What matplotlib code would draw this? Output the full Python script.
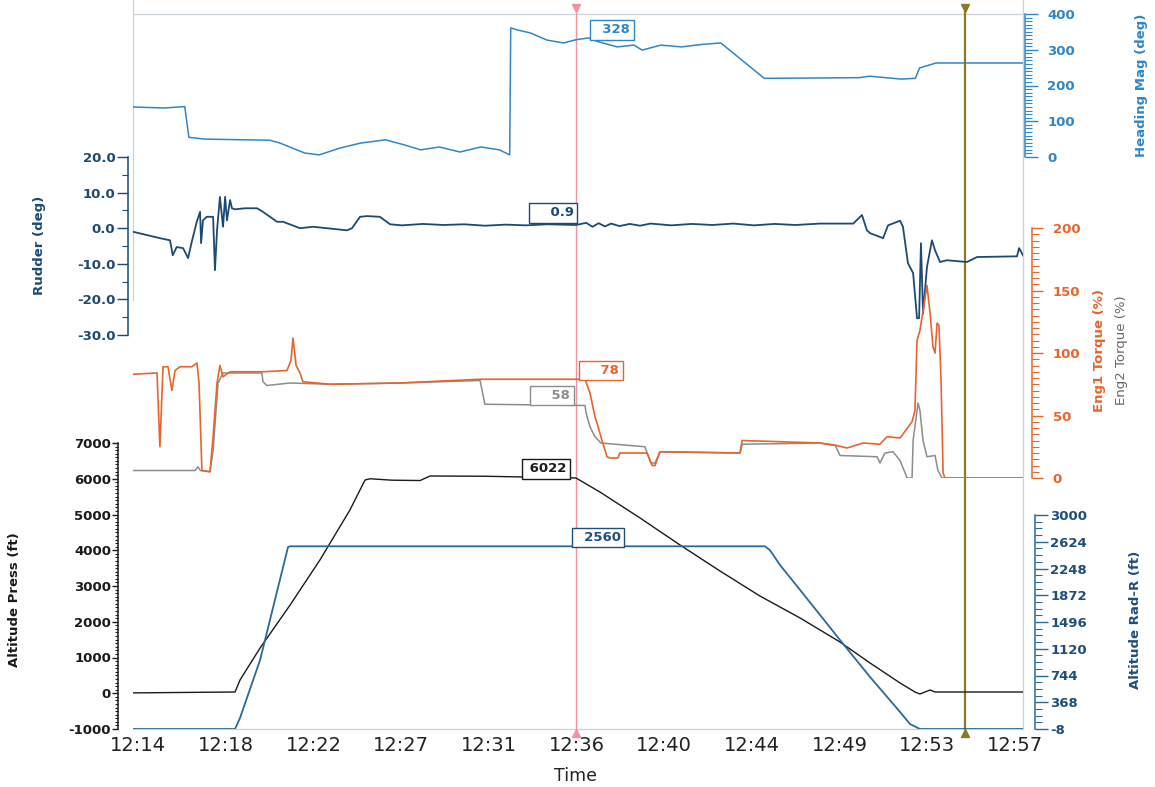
import matplotlib

matplotlib.use('Agg')

import matplotlib.pyplot as plt
from matplotlib.ticker import MultipleLocator, FixedLocator

plt.rcParams['axes.unicode_minus'] = False

W, H = 1155, 787

# time in minutes after 12:14
tick_pos = [0.24, 4.48, 8.72, 12.95, 17.19, 21.43, 25.66, 29.90, 34.14, 38.37, 42.61]
tick_lab = ['12:14', '12:18', '12:22', '12:27', '12:31', '12:36', '12:40', '12:44', '12:49', '12:53', '12:57']
cursor1 = 21.4
cursor2 = 40.2

t_hdg = [0, 1.5, 2.5, 2.7, 3.5, 5.5, 6.6, 7.1, 8.3, 9.0, 10.0, 11.0, 12.2, 13.1, 13.9, 14.8,
         15.8, 16.8, 17.7, 18.2, 18.25, 18.6, 19.2, 20.0, 20.8, 21.4, 22.0, 22.5, 23.4, 24.2,
         24.6, 25.5, 26.5, 27.5, 28.4, 30.5, 33.0, 35.1, 35.6, 37.1, 37.8, 38.0, 38.8, 43.0]
hdg = [140, 137, 141, 55, 50, 48, 47, 39, 11, 6, 25, 39, 48, 34, 20, 28,
       14, 28, 20, 6, 361, 355, 347, 327, 319, 328, 333, 322, 308, 313,
       299, 313, 308, 315, 319, 220, 221, 222, 226, 218, 220, 249, 263, 263]

t_rud = [0, 1.3, 1.79, 1.92, 2.11, 2.42, 2.66, 2.84, 3.08, 3.24, 3.29, 3.38, 3.56, 3.87,
         3.96, 4.06, 4.20, 4.35, 4.45, 4.54, 4.69, 4.78, 4.93, 5.41, 5.99, 6.28, 6.96, 7.25,
         8.07, 8.70, 9.52, 10.34, 10.58, 10.97, 11.31, 11.93, 12.42, 13.0, 14.0, 15.0, 16.0,
         17.0, 18.0, 19.0, 20.0, 21.4, 21.9, 22.2, 22.5, 22.8, 23.1, 23.5, 24.0, 24.5, 25.0,
         26.0, 27.0, 28.0, 29.0, 30.0, 31.0, 32.0, 33.2, 34.8, 35.22, 35.46, 35.61, 36.24,
         36.48, 37.06, 37.20, 37.44, 37.69, 37.88, 37.98, 38.07, 38.17, 38.36, 38.60, 38.75,
         38.99, 39.33, 40.29, 40.78, 42.71, 42.81, 43.0]
rud = [-1.0, -2.8, -3.4, -7.6, -5.3, -5.6, -8.4, -3.8, 1.8, 4.6, -4.2, 2.2, 3.2, 3.2,
       -11.8, -0.6, 8.8, 0.4, 8.8, 2.2, 7.9, 5.6, 5.3, 5.6, 5.6, 4.6, 1.8, 1.8,
       0.0, 0.4, -0.1, -0.6, 0.0, 3.2, 3.4, 3.2, 1.1, 0.8, 1.2, 0.9, 1.1,
       0.7, 1.0, 0.8, 1.1, 0.9, 1.5, 0.4, 1.4, 0.5, 1.3, 0.6, 1.2, 0.7, 1.3,
       0.8, 1.2, 0.9, 1.3, 0.8, 1.2, 0.9, 1.3, 1.3, 3.7, -0.6, -1.4, -2.8,
       0.8, 2.1, 0.4, -9.8, -12.6, -25.3, -25.3, -4.2, -24.0, -10.9, -3.4, -6.2,
       -9.5, -9.0, -9.5, -8.1, -7.9, -5.6, -7.6]

t_eng1 = [0, 1.16, 1.30, 1.45, 1.69, 1.88, 2.03, 2.27, 2.85, 3.09, 3.19, 3.33, 3.72, 3.87,
          4.06, 4.20, 4.35, 4.69, 6.28, 7.44, 7.63, 7.73, 7.88, 8.07, 8.21, 9.52, 12.9, 16.77,
          21.84, 22.08, 22.32, 22.47, 22.66, 22.90, 23.05, 23.43, 23.52, 24.83, 25.08, 25.22,
          25.46, 29.33, 29.43, 33.19, 34.01, 34.50, 35.27, 36.09, 36.43, 37.06, 37.64, 37.78,
          37.88, 38.02, 38.36, 38.51, 38.65, 38.75, 38.85, 38.94, 39.04, 39.14, 39.23, 43.0]
eng1 = [83, 84, 25, 89, 89, 70, 86, 89, 89, 92, 76, 6, 5, 33,
        76, 90, 81, 85, 85, 86, 94, 112, 90, 84, 77, 75, 76, 79,
        79, 68, 49, 41, 30, 17, 16, 16, 20, 20, 10, 10,
        21, 20, 30, 28, 26, 24, 28, 27, 33, 32, 45, 54,
        110, 118, 154, 132, 105, 100, 124, 122, 78, 4, 0, 0]

t_eng2 = [0, 3.0, 3.14, 3.25, 3.72, 3.87, 4.11, 4.35, 6.23, 6.28, 6.47, 7.58, 9.52, 12.9,
          16.77, 17.0, 21.84, 21.89, 22.08, 22.32, 22.61, 24.73, 25.03, 25.22, 25.46, 29.33,
          29.43, 33.19, 33.93, 34.16, 35.95, 36.09, 36.33, 36.72, 37.06, 37.40, 37.64, 37.69,
          37.93, 38.02, 38.17, 38.36, 38.75, 38.89, 39.09, 43.0]
eng2 = [6, 6, 9, 6, 5, 22, 76, 84, 84, 77, 74, 76, 75, 76,
        78, 59, 58, 52, 41, 33, 28, 25, 12, 12, 21, 20,
        27, 28, 26, 18, 17, 12, 20, 21, 14, 0, 0, 30,
        60, 54, 30, 17, 18, 6, 0, 0]

t_alt = [0, 4.93, 5.17, 6.14, 7.59, 9.03, 10.48, 11.21, 11.45, 12.5, 13.87, 14.35, 17.0,
         21.4, 22.56, 24.5, 26.43, 28.36, 30.29, 32.23, 34.16, 35.61, 37.06, 37.78, 38.02,
         38.51, 38.75, 43.0]
alt = [10, 35, 370, 1266, 2468, 3727, 5125, 5965, 6000, 5960, 5950, 6077, 6070,
       6022, 5629, 4902, 4147, 3420, 2720, 2105, 1433, 846, 287, 35, -21,
       91, 35, 35]

t_rad = [0, 4.93, 5.17, 6.14, 7.49, 7.59, 30.53, 30.77, 31.26, 32.23, 34.16, 35.61, 37.06,
         37.54, 38.02, 43.0]
rad = [-8, -8, 147, 962, 2550, 2560, 2560, 2508, 2297, 1946, 1243, 723, 231,
       62, -8, -8]

c_hdg = '#2f86c8'
c_rud = '#1d4a72'
c_eng1 = '#e8642c'
c_eng2 = '#8c8c8c'
c_alt = '#1a1a1a'
c_rad = '#2b6a96'
c_radlab = '#1d4f7c'


def box(x0, y0, x1, y1):
    return [x0 / W, 1 - y1 / H, (x1 - x0) / W, (y1 - y0) / H]


fig = plt.figure(figsize=(W / 100, H / 100), dpi=100)
fig.patch.set_facecolor('white')

# frame behind everything
frame = fig.add_axes(box(133, 14, 1023, 729))
frame.set_xlim(0, 43)
frame.set_ylim(0, 1)
frame.set_xticks([])
frame.set_yticks([])
for s in frame.spines.values():
    s.set_color('#c9d1d9')
    s.set_linewidth(0.9)
frame.spines['left'].set_visible(False)
frame.plot([0, 0], [0.6, 1.02], color='#c9d1d9', lw=0.9, clip_on=False)
frame.plot([43, 43], [1, 1.02], color='#c9d1d9', lw=0.9, clip_on=False)


def panel(rect, ylim, side, color, offset, major, minor, maj_len, min_len, pad, fmt=None):
    ax = fig.add_axes(box(*rect))
    ax.patch.set_alpha(0)
    ax.set_xlim(0, 43)
    ax.set_ylim(*ylim)
    for s in ax.spines.values():
        s.set_visible(False)
    sp = ax.spines[side]
    sp.set_visible(True)
    sp.set_color(color)
    sp.set_linewidth(1.1)
    sp.set_position(('outward', offset))
    if side == 'right':
        ax.yaxis.tick_right()
    ax.yaxis.set_major_locator(major)
    ax.yaxis.set_minor_locator(minor)
    ax.tick_params(axis='y', which='major', length=maj_len, width=1, color=color,
                   labelcolor=color, pad=pad, labelsize=9.5, direction='out')
    ax.tick_params(axis='y', which='minor', length=min_len, width=0.8, color=color, direction='out')
    for lab in ax.get_yticklabels():
        lab.set_fontweight('bold')
    if fmt:
        ax.yaxis.set_major_formatter(fmt)
    ax.set_xticks([])
    return ax


ax_hdg = panel((133, 14, 1023, 157), (0, 400), 'right', c_hdg, 1.5,
               MultipleLocator(100), MultipleLocator(10), 9, 5, 7)
ax_rud = panel((133, 157, 1023, 335), (-30, 20), 'left', c_rud, 3.6,
               MultipleLocator(10), MultipleLocator(5), 8, 4.5, 1, '{x:.1f}')
ax_eng = panel((133, 228, 1023, 478), (0, 200), 'right', c_eng1, 6.5,
               MultipleLocator(50), MultipleLocator(5), 8, 5, 7)
ax_alt = panel((133, 443, 1023, 729), (-1000, 7000), 'left', c_alt, 10.8,
               MultipleLocator(1000), MultipleLocator(100), 4, 2.5, 1)
ax_rad = panel((133, 515, 1023, 729), (-8, 3000), 'right', c_rad, 8.6,
               FixedLocator([-8 + 376 * i for i in range(9)]),
               FixedLocator([-8 + 94 * i for i in range(33)]), 9, 5, 2)
ax_rad.tick_params(axis='y', labelcolor=c_radlab)

ax_hdg.plot(t_hdg, hdg, color=c_hdg, lw=1.1)
ax_rud.plot(t_rud, rud, color=c_rud, lw=1.3)
ax_eng.plot(t_eng2, eng2, color=c_eng2, lw=1.1)
ax_eng.plot(t_eng1, eng1, color=c_eng1, lw=1.2)
ax_alt.plot(t_alt, alt, color=c_alt, lw=1.0)
ax_rad.plot(t_rad, rad, color=c_rad, lw=1.3)

# time axis
ax_alt.set_xticks(tick_pos)
ax_alt.set_xticklabels(tick_lab, fontsize=14, color='#222222')
ax_alt.tick_params(axis='x', length=0, pad=5)
fig.text(576 / W, 1 - 776 / H, 'Time', ha='center', va='center', fontsize=12.5, color='#222222')

# cursors
for t, col, lw in [(cursor1, '#f2939f', 1.0), (cursor2, '#8a7a28', 1.6)]:
    frame.plot([t, t], [0, 1.009], color=col, lw=lw, clip_on=False, zorder=5)
    frame.plot(t, 1.009, marker='v', color=col, ms=6, clip_on=False, zorder=5)
    frame.plot(t, -0.005, marker='^', color=col, ms=6, clip_on=False, zorder=5)


def tag(ax, y, txt, col, dx, dy):
    ax.annotate(txt, xy=(cursor1, y), xytext=(dx, dy), textcoords='offset pixels',
                ha='center', va='center', fontsize=9.5, fontweight='bold', color=col,
                bbox=dict(boxstyle='square,pad=0.25', fc='white', ec=col, lw=1.0), zorder=10)


tag(ax_hdg, hdg[t_hdg.index(cursor1)], '  328', c_hdg, 36, 10)
tag(ax_rud, 0.9, '    0.9', c_rud, -23, 12)
tag(ax_eng, 78, '    78', c_eng1, 25, 10)
tag(ax_eng, 58, '    58', c_eng2, -24, 10)
tag(ax_alt, 6022, ' 6022', c_alt, -30, 9)
tag(ax_rad, 2560, '  2560', c_radlab, 22, 9)

# axis titles
def ylab(x, y, txt, col, bold=True):
    fig.text(x / W, 1 - y / H, txt, rotation=90, ha='center', va='center', fontsize=9.5,
             color=col, fontweight='bold' if bold else 'normal')


ylab(1141, 85, 'Heading Mag (deg)', c_hdg)
ylab(40, 245, 'Rudder (deg)', c_rud)
ylab(1100, 350, 'Eng1 Torque (%)', c_eng1)
ylab(1122, 350, 'Eng2 Torque (%)', '#666666', bold=False)
ylab(15, 600, 'Altitude Press (ft)', c_alt)
ylab(1135, 620, 'Altitude Rad-R (ft)', c_radlab)

plt.savefig('out.png', dpi=100)
